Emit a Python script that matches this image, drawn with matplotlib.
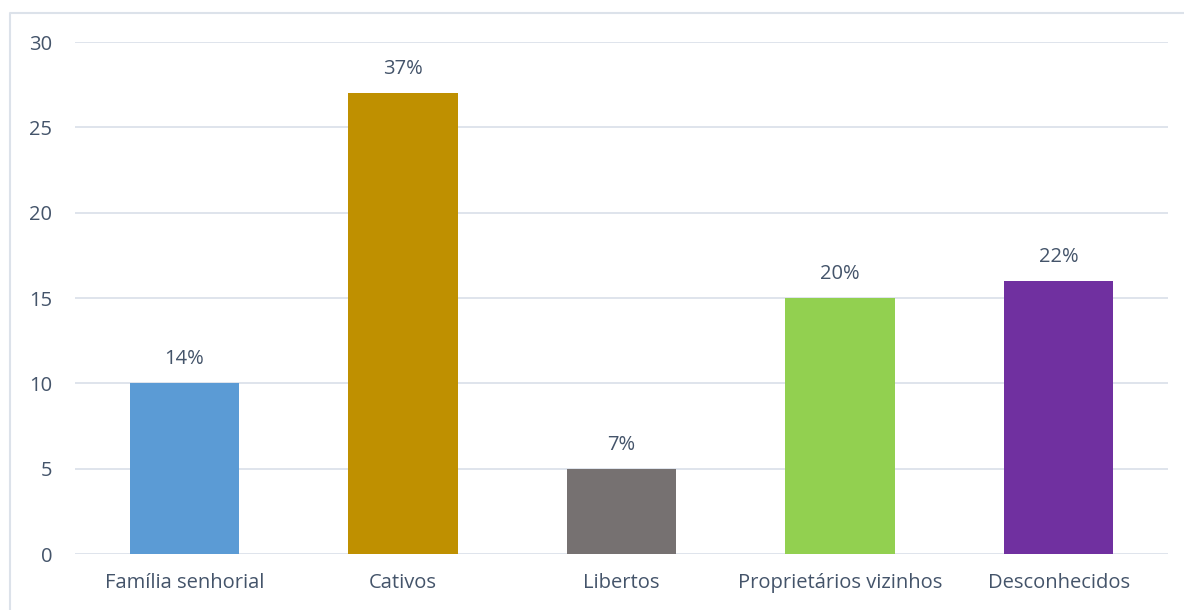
import matplotlib.pyplot as plt
from matplotlib.lines import Line2D

categories = ['Família senhorial', 'Cativos', 'Libertos', 'Proprietários vizinhos', 'Desconhecidos']
values = [10, 27, 5, 15, 16]
pct_labels = ['14%', '37%', '7%', '20%', '22%']
colors = ['#5B9BD5', '#BF9000', '#767171', '#92D050', '#7030A0']

text_color = '#44546A'
grid_color = '#DCE2EA'

plt.rcParams['font.family'] = ['Open Sans', 'DejaVu Sans']

fig = plt.figure(figsize=(11.84, 6.10), dpi=100)
ax = fig.add_axes([0.0633, 0.0918, 0.9232, 0.8393])

x = range(len(categories))
bars = ax.bar(x, values, width=0.5, color=colors, zorder=3)
for b, lab in zip(bars, pct_labels):
    ax.annotate(lab, (b.get_x() + b.get_width() / 2, b.get_height()),
                xytext=(0, 10), textcoords='offset points',
                ha='center', va='bottom', fontsize=14.5, color=text_color)

ax.set_xlim(-0.5, 4.5)
ax.set_ylim(0, 30)
ax.set_yticks(range(0, 31, 5))
ax.set_xticks(list(x))
ax.set_xticklabels(categories)
ax.tick_params(axis='both', length=0, labelsize=14.5, labelcolor=text_color)
ax.tick_params(axis='x', pad=14)
ax.tick_params(axis='y', pad=16.5)
ax.grid(axis='y', color=grid_color, linewidth=1.3, zorder=0)
for s in ax.spines.values():
    s.set_visible(False)

# light frame (left and top edges visible in the crop)
fig.add_artist(Line2D([10 / 1184, 10 / 1184, 1.0], [0.0, 1 - 13 / 610, 1 - 13 / 610],
                      transform=fig.transFigure, color=grid_color, linewidth=1.5))

fig.savefig('out.png', dpi=100)
